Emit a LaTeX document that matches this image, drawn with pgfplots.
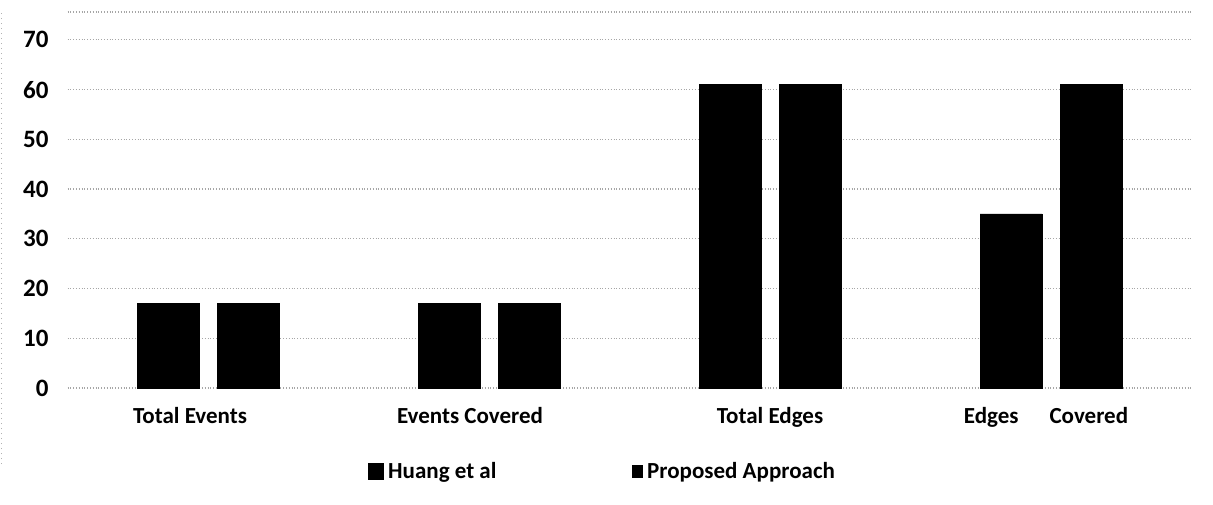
\documentclass[border=0pt]{standalone}
\usepackage{pgfplots}
\pgfplotsset{compat=1.18}
\usepackage{fontspec}
\setmainfont{Carlito}
\begin{document}
\begin{tikzpicture}
\useasboundingbox (0,0) rectangle (606.5pt,252pt);
\draw[gray!60, dotted, line width=0.5pt] (0.8pt,20pt) -- (0.8pt,246pt);
\begin{axis}[
  at={(33.75pt,58pt)}, anchor=south west,
  scale only axis, width=562pt, height=188pt,
  ybar=9pt, bar width=31pt,
  xmin=-0.5, xmax=3.5, ymin=0, ymax=75.6,
  xtick=data,
  xticklabels={{Total Events\kern18pt}, {Events Covered\kern19pt}, {Total Edges}, {Edges\kern1.35em Covered\kern5pt}},
  ytick={0,10,...,70},
  extra y ticks={75.6}, extra y tick labels={},
  extra y tick style={grid=major},
  ymajorgrids,
  grid style={gray!70, densely dotted, line width=0.6pt},
  axis line style={draw=none},
  major tick length=0pt,
  xticklabel style={font=\fontsize{11.5}{13}\selectfont\bfseries, yshift=-6pt},
  yticklabel style={font=\fontsize{12.5}{14}\selectfont\bfseries, xshift=-6pt},
  /pgf/number format/assume math mode=true,
  legend style={draw=none, at={(0.262,-0.222)}, anchor=west, legend columns=2,
    font=\fontsize{11.5}{13}\selectfont\bfseries,
    /tikz/every even column/.append style={column sep=66pt}},
]
\addplot[fill=black, draw=black, area legend,
  legend image code/.code={\fill[black] (0pt,-4.2pt) rectangle (7.5pt,4.2pt);}]
  coordinates {(0,17) (1,17) (2,61) (3,35)};
\addplot[fill=black, draw=black, area legend,
  legend image code/.code={\fill[black] (1pt,-3.2pt) rectangle (6pt,3.2pt);}]
  coordinates {(0,17) (1,17) (2,61) (3,61)};
\legend{Huang et al, Proposed Approach}
\end{axis}
\end{tikzpicture}
\end{document}
